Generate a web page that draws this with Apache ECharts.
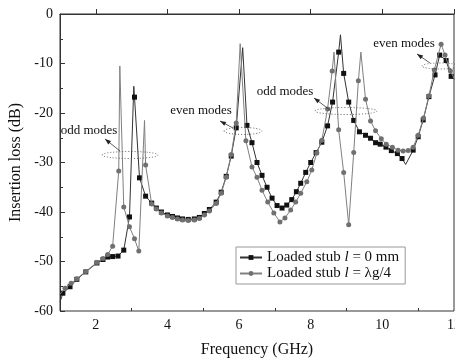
<!DOCTYPE html>
<html>
<head>
<meta charset="utf-8">
<script src="https://cdn.jsdelivr.net/npm/echarts@6/dist/echarts.min.js"></script>
<style>
  html, body { margin: 0; padding: 0; background: #fff; }
  #chart { width: 455px; height: 361px; }
</style>
</head>
<body>
<div id="chart"></div>
<script>
// x tick labels (GHz)
const freqLabels = [2, 4, 6, 8, 10, 12];
const freqMinor = [3, 5, 7, 9, 11];

// Loaded stub l = 0 mm : marked points [GHz, dB]
const stub0Marks = [
  [1.08, -56.4], [1.28, -55.1], [1.47, -53.6], [1.72, -52.1], [2.03, -50.3],
  [2.2, -49.6], [2.33, -49.1], [2.47, -49.0], [2.62, -48.9], [2.78, -47.7],
  [2.94, -41.0], [3.08, -16.8], [3.22, -33.1], [3.39, -36.8], [3.56, -38.2],
  [3.69, -39.2], [3.83, -40.0], [4.0, -40.6], [4.14, -40.9], [4.28, -41.2],
  [4.42, -41.4], [4.58, -41.5], [4.75, -41.4], [4.89, -41.1], [5.03, -40.3],
  [5.17, -39.5], [5.36, -38.0], [5.5, -36.0], [5.64, -32.8], [5.78, -28.7],
  [5.92, -23.0], [6.22, -22.5], [6.36, -26.0], [6.5, -30.0], [6.64, -32.6],
  [6.78, -35.0], [6.92, -37.2], [7.06, -38.7], [7.2, -39.2], [7.33, -38.6],
  [7.47, -37.5], [7.6, -35.9], [7.72, -34.2], [7.86, -32.0], [8.0, -30.0],
  [8.15, -28.0], [8.31, -25.9], [8.47, -22.6], [8.61, -17.8], [8.78, -7.7],
  [8.92, -12.0], [9.06, -17.8], [9.2, -21.5], [9.36, -23.8], [9.53, -24.5],
  [9.67, -25.1], [9.81, -26.0], [9.94, -26.3], [10.1, -26.9], [10.25, -27.6],
  [10.42, -28.2], [10.55, -29.2], [10.86, -27.5], [11.0, -24.8], [11.14, -21.4],
  [11.3, -16.7], [11.47, -12.3], [11.6, -8.3], [11.78, -9.4], [11.92, -12.6]
];
// Loaded stub l = 0 mm : unmarked vertices (ends, peaks, dips)
const stub0Peaks = [
  [1.0, -58.2], [3.06, -14.6], [6.1, -6.8], [8.83, -4.2], [10.65, -30.4],
  [11.63, -7.9], [12.0, -13.2]
];

// Loaded stub l = λg/4 : marked points [GHz, dB]
const stubQMarks = [
  [1.14, -55.4], [1.31, -54.4], [1.47, -53.5], [1.72, -52.0], [2.03, -50.2],
  [2.2, -49.4], [2.33, -48.6], [2.47, -46.9], [2.64, -31.7], [2.78, -39.0],
  [2.94, -43.0], [3.08, -45.4], [3.2, -47.9], [3.39, -30.5], [3.56, -38.4],
  [3.69, -39.4], [3.83, -40.2], [4.0, -40.8], [4.14, -41.1], [4.28, -41.4],
  [4.42, -41.6], [4.58, -41.7], [4.75, -41.6], [4.89, -41.3], [5.03, -40.6],
  [5.17, -39.8], [5.36, -38.3], [5.5, -36.2], [5.64, -33.0], [5.78, -28.4],
  [5.92, -22.0], [6.19, -25.6], [6.36, -30.9], [6.5, -33.0], [6.64, -35.6],
  [6.8, -38.0], [6.97, -40.2], [7.14, -42.0], [7.28, -41.2], [7.44, -39.6],
  [7.58, -38.0], [7.72, -36.2], [7.89, -33.9], [8.03, -31.5], [8.17, -28.1],
  [8.31, -25.5], [8.47, -19.2], [8.6, -11.5], [8.78, -23.4], [8.92, -32.0],
  [9.06, -42.6], [9.2, -28.0], [9.33, -13.5], [9.53, -17.2], [9.67, -21.6],
  [9.81, -23.6], [9.97, -25.2], [10.11, -26.3], [10.28, -26.9], [10.44, -27.5],
  [10.58, -27.7], [10.72, -27.6], [10.86, -26.9], [11.0, -24.5], [11.15, -21.0],
  [11.3, -16.5], [11.45, -11.3], [11.64, -6.1], [11.75, -8.3], [11.9, -11.5]
];
// Loaded stub l = λg/4 : unmarked vertices
const stubQPeaks = [
  [1.0, -56.6], [2.67, -10.5], [3.36, -21.5], [6.03, -6.0], [8.65, -7.7],
  [9.4, -7.7], [12.0, -13.0]
];

function buildLine(marks, peaks) {
  const pts = marks.map(p => ({ value: p }))
    .concat(peaks.map(p => ({ value: p, symbol: 'none' })));
  pts.sort((a, b) => a.value[0] - b.value[0]);
  return pts;
}

const FONT = '"Liberation Serif", "DejaVu Serif", serif';

// dotted ellipses + arrows + labels for the mode annotations
const notes = [
  { text: 'odd modes', tx: 89, ty: 131, cx: 130, cy: 155, rx: 28, ry: 3.5, ax: [120, 151], ah: [105, 139] },
  { text: 'even modes', tx: 201, ty: 111, cx: 243, cy: 131, rx: 19, ry: 3.5, ax: [233, 128], ah: [220, 121] },
  { text: 'odd modes', tx: 285, ty: 92, cx: 346, cy: 111, rx: 31, ry: 3.5, ax: [330, 110], ah: [314, 98] },
  { text: 'even modes', tx: 404, ty: 44, cx: 440, cy: 66, rx: 18, ry: 3, ax: [430, 63], ah: [417, 54] }
];

function noteGraphics() {
  const out = [];
  notes.forEach(n => {
    out.push({
      type: 'ellipse', z: 100, silent: true,
      shape: { cx: n.cx, cy: n.cy, rx: n.rx, ry: n.ry },
      style: { fill: 'none', stroke: '#444', lineWidth: 0.8, lineDash: [1, 2] }
    });
    out.push({
      type: 'line', z: 100, silent: true,
      shape: { x1: n.ax[0], y1: n.ax[1], x2: n.ah[0], y2: n.ah[1] },
      style: { stroke: '#333', lineWidth: 0.8 }
    });
    const ang = Math.atan2(n.ah[1] - n.ax[1], n.ah[0] - n.ax[0]);
    const L = 6, W = 2.2;
    const bx = n.ah[0] - L * Math.cos(ang), by = n.ah[1] - L * Math.sin(ang);
    out.push({
      type: 'polygon', z: 100, silent: true,
      shape: { points: [
        [n.ah[0], n.ah[1]],
        [bx + W * Math.sin(ang), by - W * Math.cos(ang)],
        [bx - W * Math.sin(ang), by + W * Math.cos(ang)]
      ] },
      style: { fill: '#222' }
    });
    out.push({
      type: 'text', z: 100, silent: true,
      x: n.tx, y: n.ty,
      style: { text: n.text, font: '13px ' + FONT, fill: '#111', align: 'center', verticalAlign: 'middle' }
    });
  });
  return out;
}

const chart = echarts.init(document.getElementById('chart'));

chart.setOption({
  animation: false,
  backgroundColor: '#fff',
  grid: {
    left: 60, right: 1, top: 14, bottom: 50,
    outerBoundsMode: 'none', containLabel: false,
    show: true, borderColor: '#333', borderWidth: 1
  },
  legend: {
    orient: 'vertical',
    left: 236, top: 247,
    itemWidth: 22, itemHeight: 6, itemGap: 1,
    padding: [3, 6, 3, 3],
    borderColor: '#999', borderWidth: 1, backgroundColor: '#fff',
    textStyle: {
      fontFamily: FONT, fontSize: 15, color: '#111',
      rich: { i: { fontFamily: FONT, fontSize: 15, fontStyle: 'italic', color: '#111' } }
    },
    formatter: name => name === 's0'
      ? 'Loaded stub {i|l} = 0 mm'
      : 'Loaded stub {i|l} = λg/4',
    data: ['s0', 'sq']
  },
  xAxis: [{
    type: 'value', min: 1, max: 12,
    name: 'Frequency (GHz)', nameLocation: 'middle', nameGap: 31,
    nameTextStyle: { fontFamily: FONT, fontSize: 16, color: '#111' },
    axisLine: { lineStyle: { color: '#333' } },
    axisTick: { inside: true, length: 5, customValues: freqLabels, lineStyle: { color: '#333' } },
    axisLabel: { customValues: freqLabels, fontFamily: FONT, fontSize: 14, color: '#111', margin: 7 },
    splitLine: { show: false }
  }, {
    type: 'value', min: 1, max: 12, position: 'bottom',
    axisLine: { show: false },
    axisTick: { inside: true, length: 3, customValues: freqMinor, lineStyle: { color: '#333' } },
    axisLabel: { show: false },
    splitLine: { show: false }
  }],
  yAxis: {
    type: 'value', min: -60, max: 0, interval: 10,
    name: 'Insertion loss (dB)', nameLocation: 'middle', nameGap: 30,
    nameTextStyle: { fontFamily: FONT, fontSize: 16, color: '#111' },
    axisLine: { show: true, lineStyle: { color: '#333' } },
    axisTick: { show: true, inside: true, length: 5, lineStyle: { color: '#333' } },
    minorTick: { show: true, splitNumber: 2, length: 3, lineStyle: { color: '#333' } },
    axisLabel: { fontFamily: FONT, fontSize: 14, color: '#111', margin: 7 },
    splitLine: { show: false }
  },
  graphic: noteGraphics(),
  series: [
    {
      name: 's0', type: 'line', data: buildLine(stub0Marks, stub0Peaks),
      symbol: 'rect', symbolSize: 5, showAllSymbol: true,
      lineStyle: { color: '#333', width: 1 },
      itemStyle: { color: '#111' },
      z: 3
    },
    {
      name: 'sq', type: 'line', data: buildLine(stubQMarks, stubQPeaks),
      symbol: 'circle', symbolSize: 5, showAllSymbol: true,
      lineStyle: { color: '#808080', width: 1 },
      itemStyle: { color: '#707070' },
      z: 4
    }
  ]
});
</script>
</body>
</html>
